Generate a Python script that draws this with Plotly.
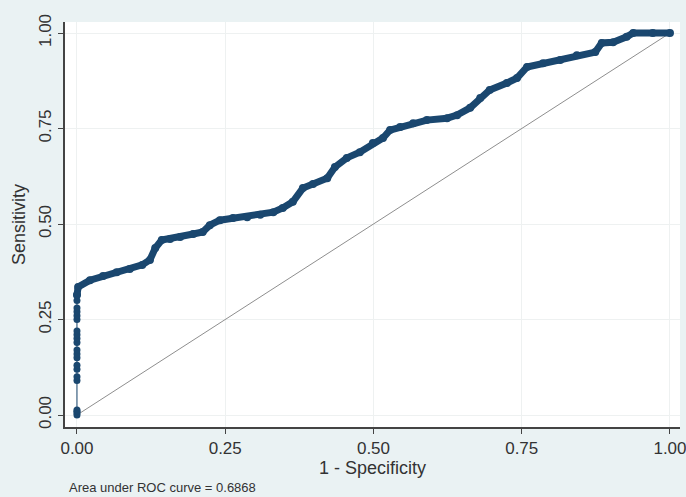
import plotly.graph_objects as go

# ROC points (1 - specificity, sensitivity)
fpr_zero = [0, 0, 0, 0, 0, 0, 0, 0, 0, 0, 0, 0, 0, 0, 0, 0, 0, 0, 0, 0, 0]
tpr_zero = [0.0, 0.005, 0.01, 0.013, 0.09, 0.10, 0.12, 0.13, 0.15, 0.16, 0.17,
            0.19, 0.20, 0.21, 0.22, 0.25, 0.26, 0.27, 0.28, 0.30, 0.314]

fpr_curve = [0.0, 0.002, 0.022, 0.044, 0.067, 0.089, 0.110, 0.123, 0.132, 0.143,
             0.157, 0.174, 0.196, 0.212, 0.224, 0.241, 0.263, 0.287, 0.309, 0.331,
             0.347, 0.364, 0.381, 0.398, 0.422, 0.435, 0.455, 0.477, 0.499, 0.516,
             0.528, 0.545, 0.567, 0.590, 0.624, 0.641, 0.663, 0.680, 0.696, 0.725,
             0.742, 0.759, 0.786, 0.815, 0.843, 0.874, 0.885, 0.904, 0.927, 0.938,
             0.971, 1.0]
tpr_curve = [0.314, 0.335, 0.353, 0.364, 0.374, 0.382, 0.393, 0.406, 0.437, 0.458,
             0.461, 0.466, 0.474, 0.479, 0.497, 0.510, 0.516, 0.518, 0.524, 0.531,
             0.542, 0.558, 0.594, 0.605, 0.620, 0.649, 0.673, 0.688, 0.712, 0.725,
             0.746, 0.754, 0.764, 0.772, 0.777, 0.785, 0.804, 0.830, 0.851, 0.869,
             0.882, 0.911, 0.921, 0.929, 0.942, 0.950, 0.974, 0.976, 0.990, 1.0,
             1.0, 1.0]

ref_x = [0, 1]
ref_y = [0, 1]

tick_vals = [0, 0.25, 0.5, 0.75, 1.0]
tick_text = ["0.00", "0.25", "0.50", "0.75", "1.00"]

x_title = "1 - Specificity"
y_title = "Sensitivity"
auc_note = "Area under ROC curve = 0.6868"

navy = "#1a476f"
bg = "#eaf2f3"
axis_col = "#444444"
font = "Liberation Sans, Arial, sans-serif"

fig = go.Figure()
fig.add_trace(go.Scatter(x=ref_x, y=ref_y, mode="lines",
                         line=dict(color="#8e8e8e", width=1), hoverinfo="skip"))
fig.add_trace(go.Scatter(x=fpr_zero, y=tpr_zero, mode="lines+markers",
                         line=dict(color=navy, width=1),
                         marker=dict(color=navy, size=7)))
fig.add_trace(go.Scatter(x=fpr_curve, y=tpr_curve, mode="lines+markers",
                         line=dict(color=navy, width=7),
                         marker=dict(color=navy, size=8)))

axis_common = dict(
    tickvals=tick_vals, ticktext=tick_text,
    showline=True, linecolor=axis_col, linewidth=1.5,
    ticks="outside", ticklen=5, tickcolor=axis_col, tickwidth=1,
    showgrid=True, gridcolor="#eef1f1", gridwidth=1,
    zeroline=False, ticklabeloverflow="allow", automargin=False,
    tickfont=dict(family=font, size=17, color="#333333"),
)

fig.update_xaxes(range=[-0.0202, 1.0169], **axis_common)
fig.update_yaxes(range=[-0.0314, 1.0288], tickangle=-90, **axis_common,
                 title=dict(text=y_title, standoff=6,
                            font=dict(family=font, size=18, color="#333333")))

fig.add_annotation(text=x_title, xref="paper", yref="paper",
                   x=0.5, y=-0.101, xanchor="center", yanchor="middle",
                   showarrow=False,
                   font=dict(family=font, size=18, color="#333333"))
fig.add_annotation(text=auc_note, xref="paper", yref="paper",
                   x=0.0035, y=-0.1506, xanchor="left", yanchor="middle",
                   showarrow=False,
                   font=dict(family=font, size=13, color="#333333"))

fig.update_layout(
    width=686, height=497,
    margin=dict(l=65, r=6, t=22, b=70),
    paper_bgcolor=bg, plot_bgcolor="white",
    showlegend=False,
)

fig.write_html("out.html")
